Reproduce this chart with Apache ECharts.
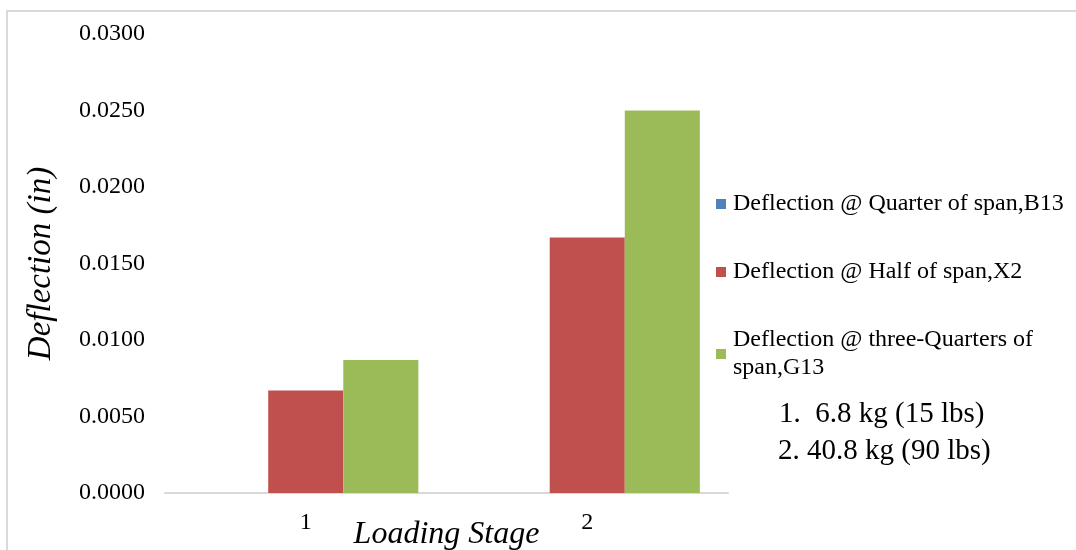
<!DOCTYPE html>
<html><head><meta charset="utf-8">
<script src="https://cdn.jsdelivr.net/npm/echarts@6/dist/echarts.min.js"></script>
<style>html,body{margin:0;padding:0;background:#fff}#c{width:1076px;height:550px}</style>
</head><body><div id="c"></div>
<script>
var categories = ['1', '2'];
var quarterSpan = [0, 0];
var halfSpan = [0.0067, 0.0167];
var threeQuarterSpan = [0.0087, 0.0250];
var seriesNames = ['Deflection @ Quarter of span,B13', 'Deflection @ Half of span,X2', 'Deflection @ three-Quarters of span,G13'];
var loadNotes = ['1.  6.8 kg (15 lbs)', '2. 40.8 kg (90 lbs)'];

var font = '"Liberation Serif", "Times New Roman", serif';
var chart = echarts.init(document.getElementById('c'));
chart.setOption({
  animation: false,
  textStyle: { fontFamily: font },
  grid: { left: 165, right: 348, top: 34, bottom: 57, containLabel: false, outerBoundsMode: 'none' },
  legend: {
    orient: 'vertical', left: 716, top: 190, padding: 0,
    itemWidth: 10, itemHeight: 10, itemGap: 40,
    icon: 'rect',
    textStyle: { fontFamily: font, fontSize: 24, color: '#000', lineHeight: 28, padding: [0,0,0,2] },
    formatter: function (n) { return n === seriesNames[2] ? 'Deflection @ three-Quarters of\nspan,G13' : n; },
    data: seriesNames
  },
  xAxis: {
    type: 'category', data: categories,
    axisLine: { lineStyle: { color: '#d9d9d9', width: 2 } },
    axisTick: { show: false },
    axisLabel: { color: '#000', fontSize: 24, fontFamily: font, margin: 18 },
    name: 'Loading Stage', nameLocation: 'middle', nameGap: 26, nameMoveOverlap: false,
    nameTextStyle: { fontFamily: font, fontSize: 32, fontStyle: 'italic', color: '#000' }
  },
  yAxis: {
    type: 'value', min: 0, max: 0.03, interval: 0.005,
    splitLine: { show: false },
    axisLine: { show: false }, axisTick: { show: false },
    axisLabel: { color: '#000', fontSize: 24, fontFamily: font, margin: 20,
      formatter: function (v) { return v.toFixed(4); } },
    name: 'Deflection (in)', nameLocation: 'middle', nameGap: 107, nameRotate: 90, nameMoveOverlap: false,
    nameTextStyle: { fontFamily: font, fontSize: 33, fontStyle: 'italic', color: '#000' }
  },
  series: [
    { name: seriesNames[0], type: 'bar', data: quarterSpan, itemStyle: { color: '#4F81BD' }, barGap: '0%', barCategoryGap: '20%' },
    { name: seriesNames[1], type: 'bar', data: halfSpan, itemStyle: { color: '#C0504D' }, barGap: '0%', barCategoryGap: '20%' },
    { name: seriesNames[2], type: 'bar', data: threeQuarterSpan, itemStyle: { color: '#9BBB59' }, barGap: '0%', barCategoryGap: '20%' }
  ],
  graphic: [
    { type: 'rect', shape: { x: 7, y: 11, width: 1200, height: 700 }, style: { fill: 'none', stroke: '#d9d9d9', lineWidth: 2 }, silent: true },
    { type: 'text', x: 779, y: 414, style: { text: loadNotes[0], font: '29px ' + font, fill: '#000', verticalAlign: 'middle' } },
    { type: 'text', x: 778, y: 451, style: { text: loadNotes[1], font: '29px ' + font, fill: '#000', verticalAlign: 'middle' } }
  ]
});
</script></body></html>
